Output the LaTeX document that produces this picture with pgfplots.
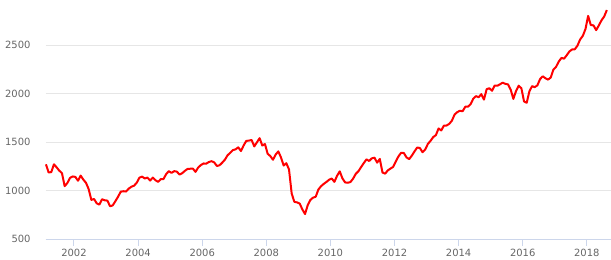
\documentclass[border=0pt]{standalone}
\usepackage{pgfplots}
\pgfplotsset{compat=1.18}
\usepackage{pgfplotstable}
\usepackage{fontspec}
\setmainfont{DejaVu Sans}
\definecolor{lbl}{HTML}{666666}
\definecolor{gridc}{HTML}{E6E6E6}
\definecolor{axc}{HTML}{CCD6EB}
\pgfplotstableread{
y m v
2001 2 1270
2001 3 1185.85
2001 4 1189.84
2001 5 1270.37
2001 6 1238.71
2001 7 1204.45
2001 8 1178.50
2001 9 1044.64
2001 10 1076.59
2001 11 1129.68
2001 12 1144.93
2002 1 1140.21
2002 2 1100.67
2002 3 1153.79
2002 4 1112.04
2002 5 1079.27
2002 6 1014.02
2002 7 903.59
2002 8 912.55
2002 9 867.81
2002 10 854.63
2002 11 909.93
2002 12 899.18
2003 1 895.84
2003 2 837.62
2003 3 846.62
2003 4 890.03
2003 5 935.96
2003 6 988.00
2003 7 992.54
2003 8 989.53
2003 9 1019.44
2003 10 1038.73
2003 11 1049.90
2003 12 1080.64
2004 1 1132.52
2004 2 1143.36
2004 3 1123.98
2004 4 1133.08
2004 5 1102.78
2004 6 1132.76
2004 7 1105.85
2004 8 1088.94
2004 9 1117.66
2004 10 1118.07
2004 11 1168.94
2004 12 1199.21
2005 1 1181.41
2005 2 1199.63
2005 3 1194.90
2005 4 1164.42
2005 5 1178.28
2005 6 1202.26
2005 7 1222.24
2005 8 1224.27
2005 9 1225.91
2005 10 1191.96
2005 11 1237.37
2005 12 1262.07
2006 1 1278.72
2006 2 1276.65
2006 3 1293.74
2006 4 1302.18
2006 5 1290.00
2006 6 1253.12
2006 7 1260.24
2006 8 1287.15
2006 9 1317.74
2006 10 1363.38
2006 11 1388.63
2006 12 1416.42
2007 1 1424.16
2007 2 1444.79
2007 3 1406.95
2007 4 1463.65
2007 5 1511.14
2007 6 1514.49
2007 7 1520.70
2007 8 1454.62
2007 9 1497.12
2007 10 1539.66
2007 11 1463.39
2007 12 1479.23
2008 1 1378.76
2008 2 1354.87
2008 3 1316.94
2008 4 1370.47
2008 5 1403.22
2008 6 1341.25
2008 7 1257.33
2008 8 1281.47
2008 9 1216.95
2008 10 968.80
2008 11 883.04
2008 12 877.56
2009 1 865.58
2009 2 805.23
2009 3 757.13
2009 4 848.15
2009 5 902.41
2009 6 926.12
2009 7 935.82
2009 8 1009.72
2009 9 1044.55
2009 10 1067.66
2009 11 1088.07
2009 12 1110.38
2010 1 1123.58
2010 2 1089.16
2010 3 1152.05
2010 4 1197.32
2010 5 1125.06
2010 6 1083.36
2010 7 1079.80
2010 8 1087.28
2010 9 1122.08
2010 10 1171.58
2010 11 1198.89
2010 12 1241.53
2011 1 1282.62
2011 2 1321.12
2011 3 1304.49
2011 4 1331.51
2011 5 1338.31
2011 6 1287.29
2011 7 1325.18
2011 8 1185.31
2011 9 1173.88
2011 10 1207.22
2011 11 1226.42
2011 12 1243.32
2012 1 1300.58
2012 2 1352.49
2012 3 1389.24
2012 4 1386.43
2012 5 1341.27
2012 6 1323.48
2012 7 1359.78
2012 8 1403.44
2012 9 1443.42
2012 10 1437.82
2012 11 1394.51
2012 12 1422.29
2013 1 1480.40
2013 2 1512.31
2013 3 1550.83
2013 4 1570.70
2013 5 1639.84
2013 6 1618.77
2013 7 1668.68
2013 8 1670.09
2013 9 1687.17
2013 10 1720.03
2013 11 1783.54
2013 12 1807.78
2014 1 1822.36
2014 2 1817.03
2014 3 1863.52
2014 4 1864.26
2014 5 1889.77
2014 6 1947.09
2014 7 1973.10
2014 8 1961.53
2014 9 1993.23
2014 10 1937.27
2014 11 2044.57
2014 12 2054.27
2015 1 2028.18
2015 2 2082.20
2015 3 2079.99
2015 4 2094.86
2015 5 2111.94
2015 6 2099.29
2015 7 2094.14
2015 8 2039.87
2015 9 1944.41
2015 10 2024.81
2015 11 2080.62
2015 12 2054.08
2016 1 1918.60
2016 2 1904.42
2016 3 2021.95
2016 4 2075.54
2016 5 2065.55
2016 6 2083.89
2016 7 2148.90
2016 8 2177.48
2016 9 2157.69
2016 10 2143.02
2016 11 2164.99
2016 12 2246.63
2017 1 2275.12
2017 2 2329.91
2017 3 2366.82
2017 4 2359.31
2017 5 2395.35
2017 6 2433.99
2017 7 2454.10
2017 8 2456.22
2017 9 2492.84
2017 10 2557.00
2017 11 2593.61
2017 12 2664.34
2018 1 2800.00
2018 2 2705.16
2018 3 2702.77
2018 4 2653.63
2018 5 2701.49
2018 6 2754.35
2018 7 2793.64
2018 8 2860.00
}\datatable
\begin{document}
\begin{tikzpicture}
\begin{axis}[
  scale only axis,
  width=565.3bp, height=239bp,
  xmin=2001.117, xmax=2018.755,
  ymin=500, ymax=2964,
  axis lines*=left,
  x axis line style={color=axc, line width=1bp, -},
  y axis line style={draw=none},
  xtick={2002,2004,...,2018},
  ytick={500,1000,...,2500},
  ymajorgrids,
  grid style={color=gridc, line width=1bp},
  tick align=outside,
  major tick length=7bp,
  xtick style={color=axc, line width=1bp},
  ytick style={draw=none},
  /pgf/number format/1000 sep={},
  /pgf/number format/assume math mode=true,
  ticklabel style={font=\fontsize{10}{12}\selectfont, text=lbl, inner sep=0pt},
  yticklabel style={anchor=east, xshift=-8bp},
  xticklabel style={anchor=north, yshift=-3bp},
  clip=false,
]
\addplot[color=red, line width=2bp, line join=round, no markers]
  table[x expr={\thisrow{y}+(\thisrow{m}-0.5)/12}, y=v] {\datatable};
\end{axis}
\pgfresetboundingbox
\path[use as bounding box] ([xshift=-45.7bp,yshift=-21bp]current axis.south west) rectangle (current axis.north east);
\end{tikzpicture}
\end{document}
